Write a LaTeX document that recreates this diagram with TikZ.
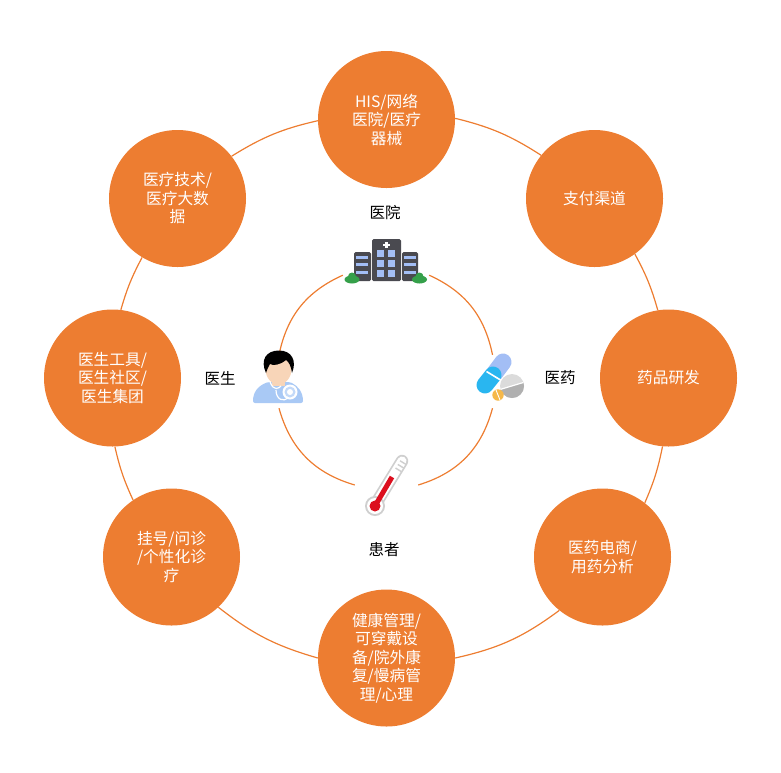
\documentclass[tikz,border=0pt]{standalone}
\usepackage{fontspec}
\setmainfont{Noto Sans CJK SC}
\definecolor{org}{HTML}{ED7D31}
\definecolor{wallc}{HTML}{4A4A50}
\definecolor{winc}{HTML}{A3BEF5}
\definecolor{bodyc}{HTML}{A9C9F5}
\definecolor{skinc}{HTML}{F8D5B8}
\definecolor{bushc}{HTML}{35A04A}
\definecolor{capb}{HTML}{29B6F0}
\definecolor{pillo}{HTML}{F5B84A}
\definecolor{thermg}{HTML}{CFCFCF}
\definecolor{thermr}{HTML}{DC0F1E}
\tikzset{
 bubble/.style={circle,fill=org,minimum size=137pt,inner sep=0pt,align=center,text=white,font=\fontsize{15.7}{18.5}\selectfont},
 captext/.style={font=\fontsize{15.5}{18}\selectfont,text=black,inner sep=0pt},
 ring/.style={draw=org,line width=1.2pt},
 iconbox/.style={rectangle,inner sep=0pt},
}
\begin{document}
\begin{tikzpicture}[x=1pt,y=-1pt]
\useasboundingbox (0,0) rectangle (781,772);
% outer bubbles
\node[bubble] (n1) at (386.5,119.5) {HIS/网络\\医院/医疗\\器械};
\node[bubble] (n2) at (594.5,198.5) {支付渠道};
\node[bubble] (n3) at (668.5,378) {药品研发};
\node[bubble] (n4) at (602.5,557) {医药电商/\\用药分析};
\node[bubble] (n5) at (386.5,658) {健康管理/\\可穿戴设\\备/院外康\\复/慢病管\\理/心理};
\node[bubble] (n6) at (171.5,557) {挂号/问诊\\/个性化诊\\疗};
\node[bubble] (n7) at (112.5,378) {医生工具/\\医生社区/\\医生集团};
\node[bubble] (n8) at (177.5,198.5) {医疗技术/\\医疗大数\\据};
% outer ring
\draw[ring] (n1.1) to[bend left=9.5] (n2.141);
\draw[ring] (n2.-54) to[bend left=6.3] (n3.99);
\draw[ring] (n3.-95.5) to[bend left=6] (n4.52);
\draw[ring] (n4.231) to[bend left=12] (n5.0);
\draw[ring] (n5.180) to[bend left=11] (n6.-47.7);
\draw[ring] (n6.124) to[bend left=6] (n7.-88);
\draw[ring] (n7.83) to[bend left=6] (n8.-121);
\draw[ring] (n8.38) to[bend left=9.5] (n1.181);
% icon anchors
\node[iconbox,minimum width=86pt,minimum height=35pt] (hosp) at (386,257.5) {};
\node[iconbox,minimum width=50pt,minimum height=53pt] (doc) at (279,381.5) {};
\node[iconbox,minimum width=40pt,minimum height=53pt] (med) at (492.5,381.5) {};
\node[iconbox,minimum width=63pt,minimum height=40pt] (therm) at (386.5,485) {};
% inner ring
\draw[ring] (hosp.south west) to[bend right=27] (doc.north);
\draw[ring] (hosp.south east) to[bend left=27] (med.north);
\draw[ring] (doc.south) to[bend right=29] (therm.west);
\draw[ring] (med.south) to[bend left=29] (therm.east);
% captions
\node[captext] (c1) at (385,213) {医院};
\node[captext] (c2) at (220,378) {医生};
\node[captext] (c3) at (560,378) {医药};
\node[captext] (c4) at (384,550) {患者};
% hospital icon
\fill[wallc,rounded corners=1.5pt] (354,252) rectangle (371,281);
\fill[wallc,rounded corners=1.5pt] (402,252) rectangle (418,281);
\fill[wallc,rounded corners=1.5pt] (372,239) rectangle (401,281);
\foreach \y in {256,263,271}{
 \fill[winc] (356,\y) rectangle (368,\y+2.6);
 \fill[winc] (404,\y) rectangle (416,\y+2.6);}
\foreach \y in {250,260,270}{
 \fill[winc] (377,\y) rectangle (384,\y+7);
 \fill[winc] (388,\y) rectangle (395,\y+7);}
\fill[white] (385,241.5) rectangle (387.6,248);
\fill[white] (383,243.5) rectangle (389.6,246);
\fill[bushc] (352,279.5) ellipse [x radius=7.5,y radius=4];
\fill[bushc] (352,276.5) circle (4);
\fill[bushc] (419.5,279.5) ellipse [x radius=7.5,y radius=4];
\fill[bushc] (419.5,276.5) circle (4);
% doctor icon
\fill[bodyc,rounded corners=2pt] (253,403) .. controls (253,392) and (258,386) .. (268,382) -- (290,382)
 .. controls (298,386) and (303,392) .. (303,403) -- cycle;
\fill[skinc] (278.5,369) ellipse [x radius=13,y radius=15.5];
\fill[skinc] (272,378) rectangle (285,386);
\fill[black] (266,373) .. controls (260,360) and (266,350.5) .. (279,350.5)
 .. controls (292,350.5) and (297,361) .. (292,373)
 .. controls (291,366) and (289,362) .. (286,360)
 .. controls (280,365) and (273,366) .. (270,364)
 .. controls (268,367) and (267,370) .. (266,373) -- cycle;
\draw[white,line width=1.2pt] (270,382) .. controls (274,392) and (279,388) .. (281,386);
\draw[white,line width=1.2pt] (276,390) .. controls (276,400) and (284,402) .. (288,398);
\fill[white] (290,392) circle (7.5);
\fill[bodyc!70!white] (290,392) circle (5.5);
\fill[white] (290,392) circle (3);
% pills icon
\draw[line width=17pt,line cap=round,draw=winc] (503,362) -- (494,374);
\draw[line width=17pt,line cap=round,draw=capb] (485,385) -- (493,375);
\draw[white,line width=1.6pt] (486.5,371.5) -- (500.5,380);
\begin{scope}
\clip (512,386) circle (12);
\fill[gray!28] (498,372) rectangle (526,400);
\fill[gray!62] (500,389.5) -- (525,382) -- (526,400) -- (498,400) -- cycle;
\draw[white,line width=1.2pt] (500,389.5) -- (525,382);
\end{scope}
\fill[pillo] (498,395) circle (5.7);
\draw[white,line width=0.9pt] (496,390) -- (500,400);
% thermometer icon
\draw[line width=12.5pt,line cap=round,draw=thermg] (375,505) -- (402,461);
\draw[line width=9pt,line cap=round,draw=white] (375,505) -- (402,461);
\fill[thermg] (375,506) circle (10);
\fill[white] (375,506) circle (8);
\draw[line width=5pt,draw=thermr] (375,506) -- (392,477);
\fill[thermr] (375,506) circle (5.5);
\foreach \t in {0,1,2}{\draw[thermg,line width=1.4pt] (395.5+2.3*\t,468-3.6*\t) -- (402+2.3*\t,472-3.6*\t);}
\end{tikzpicture}
\end{document}
